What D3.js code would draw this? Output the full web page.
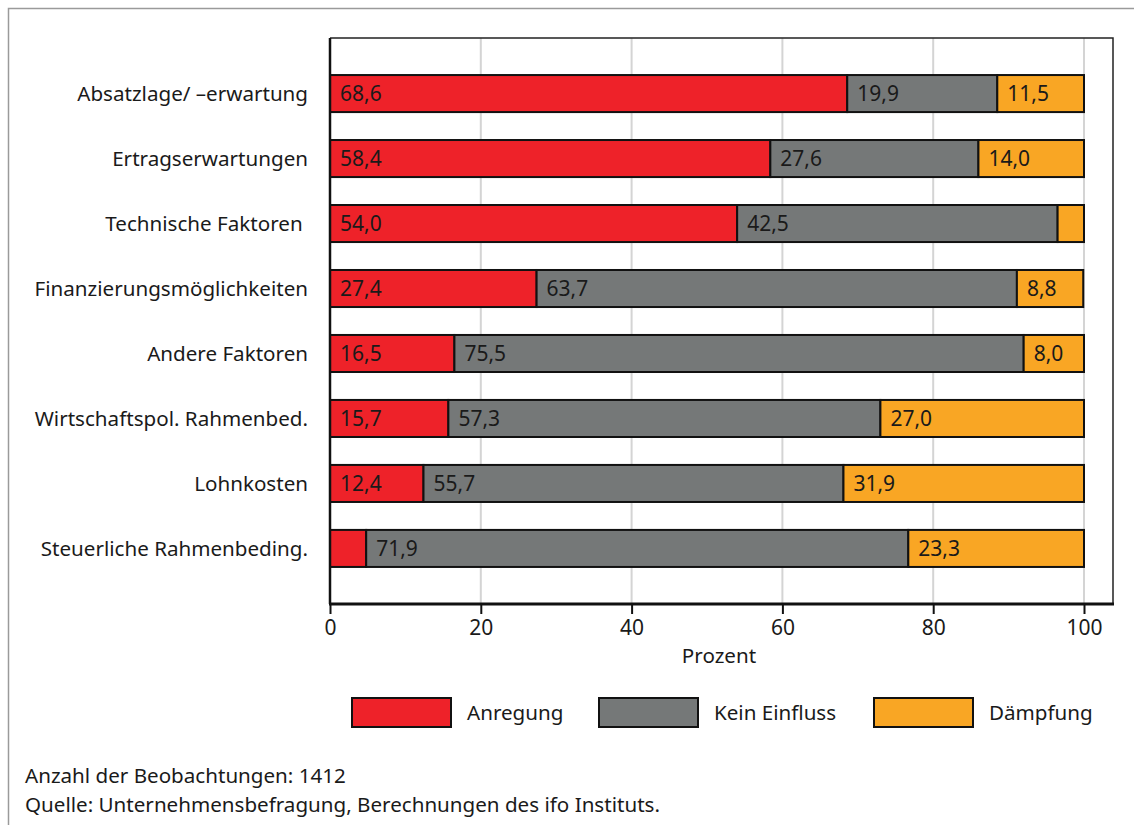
<!DOCTYPE html>
<html lang="de">
<style>
    body { margin: 0; background: #fff; }
    text { font-family: "Noto Sans", sans-serif; fill: #1a1a1a; }
</style>
<head>
    <meta charset="UTF-8">
    <title>Einflussfaktoren</title>
</head>
<body>
</body>
<script src="https://cdn.jsdelivr.net/npm/d3@7"></script>
<script type="text/javascript">
    var w = 1134;
    var h = 825;

    // data
    var categories = ["Absatzlage/ \u2013erwartung", "Ertragserwartungen", "Technische Faktoren ",
        "Finanzierungsmöglichkeiten", "Andere Faktoren", "Wirtschaftspol. Rahmenbed.",
        "Lohnkosten", "Steuerliche Rahmenbeding."];
    var seriesNames = ["Anregung", "Kein Einfluss", "Dämpfung"];
    var anregung = [68.6, 58.4, 54.0, 27.4, 16.5, 15.7, 12.4, 4.8];
    var keinEinfluss = [19.9, 27.6, 42.5, 63.7, 75.5, 57.3, 55.7, 71.9];
    var daempfung = [11.5, 14.0, 3.5, 8.8, 8.0, 27.0, 31.9, 23.3];
    var xTicks = [0, 20, 40, 60, 80, 100];
    var colors = ["#ee2229", "#757878", "#f9a624"];

    var rows = categories.map(function(c, i) {
        return {cat: c, Anregung: anregung[i], "Kein Einfluss": keinEinfluss[i], "Dämpfung": daempfung[i]};
    });
    var stacked = d3.stack().keys(seriesNames)(rows);

    // plot area
    var plotLeft = 330, plotRight = 1113, plotTop = 38, plotBottom = 604;
    var fs = "20.6px";

    var xScale = d3.scaleLinear().domain([0, 100]).range([plotLeft, 1084]);
    var yScale = d3.scaleBand()
        .domain(categories)
        .range([plotTop, plotBottom])
        .paddingInner(0.43)
        .paddingOuter(0.57);
    var color = d3.scaleOrdinal().domain(seriesNames).range(colors);

    var svg = d3.select("body")
        .append("svg")
        .attr("width", w)
        .attr("height", h);

    // outer frame (top + left only)
    svg.append("path")
        .attr("d", "M8.5," + h + "V8.5H" + w)
        .attr("fill", "none")
        .attr("stroke", "#9a9a9a")
        .attr("stroke-width", 1.5);

    // gridlines
    svg.selectAll("line.grid")
        .data(xTicks.slice(1))
        .enter()
        .append("line")
        .attr("class", "grid")
        .attr("x1", function(d) { return xScale(d); })
        .attr("x2", function(d) { return xScale(d); })
        .attr("y1", plotTop)
        .attr("y2", plotBottom)
        .attr("stroke", "#d4d4d4")
        .attr("stroke-width", 2);

    // plot box
    svg.append("path")
        .attr("d", "M" + plotLeft + "," + plotTop + "H" + plotRight + "V" + plotBottom)
        .attr("fill", "none")
        .attr("stroke", "#222")
        .attr("stroke-width", 1.5);

    // bars
    var layer = svg.selectAll("g.layer")
        .data(stacked)
        .enter()
        .append("g")
        .attr("class", "layer")
        .attr("fill", function(d) { return color(d.key); });

    layer.selectAll("rect")
        .data(function(d) { return d; })
        .enter()
        .append("rect")
        .attr("x", function(d) { return xScale(d[0]); })
        .attr("y", function(d) { return yScale(d.data.cat); })
        .attr("width", function(d) { return xScale(d[1]) - xScale(d[0]); })
        .attr("height", yScale.bandwidth())
        .attr("stroke", "#111")
        .attr("stroke-width", 2);

    layer.selectAll("text")
        .data(function(d) { return d.filter(function(p) { return p[1] - p[0] >= 5; }); })
        .enter()
        .append("text")
        .attr("x", function(d) { return xScale(d[0]) + 10; })
        .attr("y", function(d) { return yScale(d.data.cat) + yScale.bandwidth() / 2; })
        .attr("dy", "0.36em")
        .attr("font-size", "21px")
        .text(function(d) { return d3.format(".1f")(d[1] - d[0]).replace(".", ","); });

    // category labels
    svg.selectAll("text.cat")
        .data(categories)
        .enter()
        .append("text")
        .attr("class", "cat")
        .attr("x", 308)
        .attr("y", function(d) { return yScale(d) + yScale.bandwidth() / 2; })
        .attr("dy", "0.36em")
        .attr("text-anchor", "end")
        .attr("font-size", fs)
        .style("white-space", "pre")
        .text(function(d) { return d; });

    // x axis
    var xAxis = svg.append("g")
        .attr("transform", "translate(0," + plotBottom + ")")
        .call(d3.axisBottom(xScale).tickValues(xTicks).tickSize(10).tickPadding(6));
    xAxis.select(".domain").remove();
    xAxis.append("line")
        .attr("x1", plotLeft - 1).attr("x2", plotRight + 1)
        .attr("stroke", "#111").attr("stroke-width", 3);
    xAxis.selectAll(".tick line").attr("stroke", "#111").attr("stroke-width", 2);
    xAxis.selectAll(".tick text")
        .attr("font-size", "21px")
        .attr("font-family", null)
        .attr("fill", "#1a1a1a");
    svg.append("line")
        .attr("x1", plotLeft).attr("x2", plotLeft)
        .attr("y1", plotTop).attr("y2", plotBottom)
        .attr("stroke", "#111").attr("stroke-width", 2.5);

    svg.append("text")
        .attr("x", 719)
        .attr("y", 663)
        .attr("text-anchor", "middle")
        .attr("font-size", fs)
        .text("Prozent");

    // legend
    var legendX = [352, 599, 874];
    var legend = svg.selectAll("g.legend")
        .data(seriesNames)
        .enter()
        .append("g")
        .attr("class", "legend")
        .attr("transform", function(d, i) { return "translate(" + legendX[i] + ",698)"; });
    legend.append("rect")
        .attr("width", 99)
        .attr("height", 29)
        .attr("fill", function(d) { return color(d); })
        .attr("stroke", "#111")
        .attr("stroke-width", 2);
    legend.append("text")
        .attr("x", 115)
        .attr("y", 15)
        .attr("dy", "0.36em")
        .attr("font-size", fs)
        .text(function(d) { return d; });

    // footnotes
    svg.append("text")
        .attr("x", 25).attr("y", 783)
        .attr("font-size", fs)
        .text("Anzahl der Beobachtungen: 1412");
    svg.append("text")
        .attr("x", 25).attr("y", 812)
        .attr("font-size", fs)
        .text("Quelle: Unternehmensbefragung, Berechnungen des ifo Instituts.");
</script>
</html>
